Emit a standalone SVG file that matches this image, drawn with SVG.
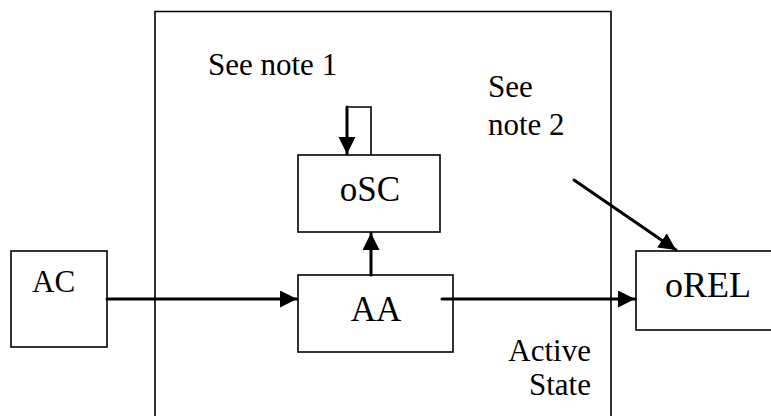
<svg xmlns="http://www.w3.org/2000/svg" width="771" height="416" viewBox="0 0 771 416">
<style>
.box{fill:#fff;stroke:#000;stroke-width:1.6}
.thin{fill:none;stroke:#000;stroke-width:1.6}
.thick{fill:none;stroke:#000;stroke-width:3;stroke-linecap:round}
text{font-family:"Liberation Serif","Times New Roman",Times,serif;fill:#000}
.s{font-size:31px}
.b{font-size:35px}
</style>
<defs>
<marker id="ah" markerUnits="userSpaceOnUse" markerWidth="19" markerHeight="18" refX="17" refY="8.5" orient="auto">
<path d="M0,0 L17,8.5 L0,17 Z" fill="#000"/>
</marker>
</defs>
<g id="active-state">
<path class="thin" d="M155,416 V11.5 H611 V416"/>
<text class="s" x="591" y="361" text-anchor="end">Active</text>
<text class="s" x="591" y="395" text-anchor="end">State</text>
</g>
<g id="note1"><text class="s" x="208" y="75">See note 1</text></g>
<g id="note2">
<text class="s" x="488" y="97">See</text>
<text class="s" x="488" y="135">note 2</text>
</g>
<g id="AC">
<rect class="box" x="11" y="251" width="96" height="96"/>
<text class="s" x="32" y="292">AC</text>
</g>
<g id="oSC">
<rect class="box" x="298" y="155" width="142" height="77"/>
<text class="b" x="370" y="201" text-anchor="middle">oSC</text>
</g>
<g id="AA">
<rect class="box" x="298" y="275" width="155" height="77"/>
<text class="b" x="376" y="321" text-anchor="middle">AA</text>
</g>
<g id="oREL">
<rect class="box" x="636" y="251" width="140" height="79"/>
<text class="b" x="665" y="297" style="font-size:36px">oREL</text>
</g>
<g id="connectors">
<path class="thin" d="M347,107 H371 V155"/>
<path class="thick" d="M347,107 V154" marker-end="url(#ah)"/>
<path class="thick" d="M371,275 V233" marker-end="url(#ah)"/>
<path class="thick" d="M107,299 H297" marker-end="url(#ah)"/>
<path class="thick" d="M442,299 H635" marker-end="url(#ah)"/>
<path class="thick" d="M574,180 L676,250" marker-end="url(#ah)"/>
</g>
</svg>
